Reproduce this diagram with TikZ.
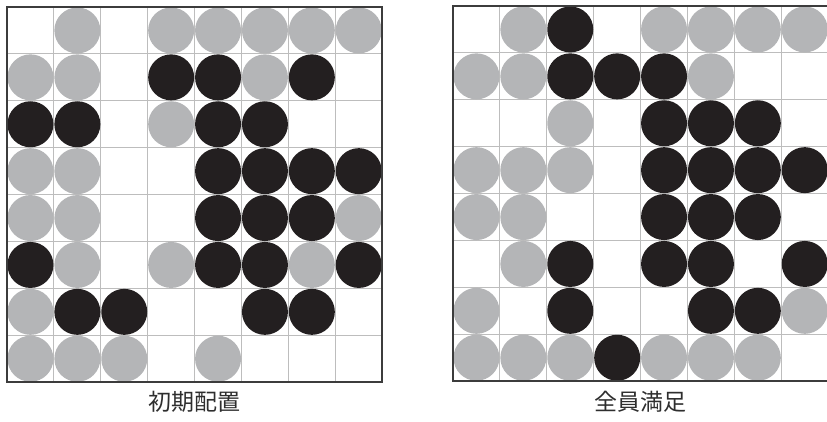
\documentclass[tikz,border=0pt]{standalone}
\usepackage{fontspec}
\newfontfamily\cjk{Noto Sans CJK JP}
\usepackage{tikz}
\usetikzlibrary{calc}
\definecolor{stone}{HTML}{B4B5B7}
\definecolor{ink}{HTML}{231F20}
\definecolor{rule}{HTML}{BDBDBD}
\definecolor{frame}{HTML}{3C3C3C}
\definecolor{caption}{HTML}{2E2E2E}

\begin{document}
\begin{tikzpicture}[x=1pt, y=-1pt]
  \def\cs{46.9}
  \def\rad{23}
  \useasboundingbox (0,0) rectangle (827,422);
  \coordinate (init) at (7,7);
  \coordinate (done) at (453,6);

  % grid lines
  \foreach \i in {1,...,7} {
    \draw[rule, line width=0.9pt] ($(init)+(\i*\cs,0)$) -- ++(0,8*\cs);
    \draw[rule, line width=0.9pt] ($(init)+(0,\i*\cs)$) -- ++(8*\cs,0);
    \draw[rule, line width=0.9pt] ($(done)+(\i*\cs,0)$) -- ++(0,8*\cs);
    \draw[rule, line width=0.9pt] ($(done)+(0,\i*\cs)$) -- ++(8*\cs,0);
  }

  % 0 empty, 1 grey, 2 black
  \foreach \row [count=\r] in {{0,1,0,1,1,1,1,1},{1,1,0,2,2,1,2,0},{2,2,0,1,2,2,0,0},{1,1,0,0,2,2,2,2},
                               {1,1,0,0,2,2,2,1},{2,1,0,1,2,2,1,2},{1,2,2,0,0,2,2,0},{1,1,1,0,1,0,0,0}} {
    \foreach \v [count=\k] in \row {
      \ifnum\v=1 \fill[stone] ($(init)+(\k*\cs-0.5*\cs,\r*\cs-0.5*\cs)$) circle (\rad); \fi
      \ifnum\v=2 \fill[ink] ($(init)+(\k*\cs-0.5*\cs,\r*\cs-0.5*\cs)$) circle (\rad); \fi
    }
  }
  \foreach \row [count=\r] in {{0,1,2,0,1,1,1,1},{1,1,2,2,2,1,0,0},{0,0,1,0,2,2,2,0},{1,1,1,0,2,2,2,2},
                               {1,1,0,0,2,2,2,0},{0,1,2,0,2,2,0,2},{1,0,2,0,0,2,2,1},{1,1,1,2,1,1,1,0}} {
    \foreach \v [count=\k] in \row {
      \ifnum\v=1 \fill[stone] ($(done)+(\k*\cs-0.5*\cs,\r*\cs-0.5*\cs)$) circle (\rad); \fi
      \ifnum\v=2 \fill[ink] ($(done)+(\k*\cs-0.5*\cs,\r*\cs-0.5*\cs)$) circle (\rad); \fi
    }
  }

  \draw[frame, line width=1.5pt] (init) rectangle ++(8*\cs,8*\cs);
  \draw[frame, line width=1.5pt] (done) rectangle ++(8*\cs,8*\cs);

  \node[font=\cjk\fontsize{23}{26}\selectfont, text=caption] (initlabel) at ($(init)+(4*\cs,395)$) {初期配置};
  \node[font=\cjk\fontsize{23}{26}\selectfont, text=caption] (donelabel) at ($(done)+(4*\cs,396)$) {全員満足};
\end{tikzpicture}
\end{document}
